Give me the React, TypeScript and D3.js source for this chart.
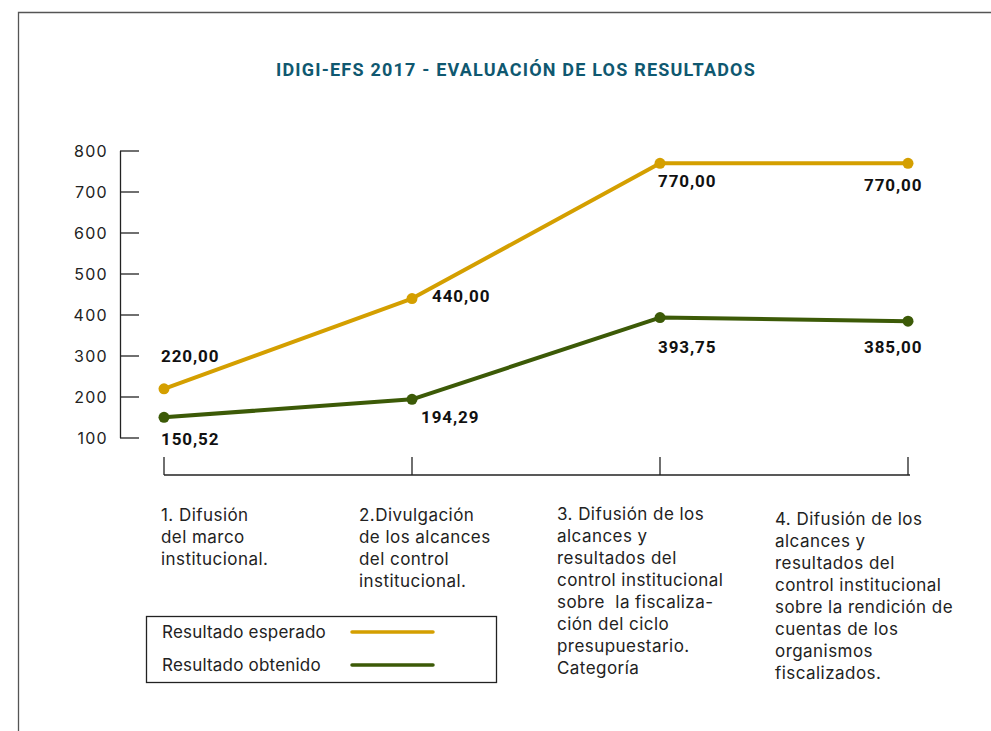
import React from "react";
import * as d3 from "d3";

const title = "IDIGI-EFS 2017 - EVALUACIÓN DE LOS RESULTADOS";
const categories = ["c1", "c2", "c3", "c4"];
const categoryLabels: string[][] = [
  ["1. Difusión", "del marco", "institucional."],
  ["2.Divulgación", "de los alcances", "del control", "institucional."],
  ["3. Difusión de los", "alcances y", "resultados del", "control institucional", "sobre  la fiscaliza-", "ción del ciclo", "presupuestario.", "Categoría"],
  ["4. Difusión de los", "alcances y", "resultados del", "control institucional", "sobre la rendición de", "cuentas de los", "organismos", "fiscalizados."],
];
const esperado = [220.0, 440.0, 770.0, 770.0];
const obtenido = [150.52, 194.29, 393.75, 385.0];
const yTicks = [100, 200, 300, 400, 500, 600, 700, 800];
const seriesNames = ["Resultado esperado", "Resultado obtenido"];

const GOLD = "#D49F00";
const GREEN = "#3C5A07";
const FONT = "Inter, 'Noto Sans', sans-serif";
const NUMFONT = "Roboto, 'Noto Sans', sans-serif";

// label offsets relative to points: [dx, dy(baseline)]
const espOffsets = [[-3, -27], [20, 3], [-2, 24], [-44, 28]];
const obtOffsets = [[-3, 28], [9, 24], [-2, 35], [-44, 32]];
const catLabelX = [161, 359, 557, 775];
const catLabelY = [521, 521, 520, 525];

export default function App() {
  const x = d3.scalePoint<string>().domain(categories).range([164, 908]);
  const y = d3.scaleLinear().domain([100, 800]).range([438, 151]);
  const line = d3
    .line<number>()
    .x((_, i) => x(categories[i]) as number)
    .y((d) => y(d));

  const fmt = (v: number) => v.toFixed(2).replace(".", ",");

  const series = [
    { name: seriesNames[0], data: esperado, color: GOLD, offs: espOffsets },
    { name: seriesNames[1], data: obtenido, color: GREEN, offs: obtOffsets },
  ];

  return (
    <svg width={991} height={731} style={{ position: "absolute", left: 0, top: 0 }}>
      <rect x={0} y={0} width={991} height={731} fill="#fff" />
      {/* frame */}
      <path d="M18.5,731 L18.5,12.5 L991,12.5" fill="none" stroke="#555" strokeWidth={1.3} />
      <text x={516} y={76} textAnchor="middle" fontFamily={NUMFONT} fontWeight={700} fontSize={18} fill="#0F5870" letterSpacing={1.2}>
        {title}
      </text>
      {/* y axis */}
      <line x1={120.5} x2={120.5} y1={y(800)} y2={y(100)} stroke="#222" strokeWidth={1.3} />
      {yTicks.map((t) => (
        <g key={t}>
          <line x1={120} x2={139} y1={y(t)} y2={y(t)} stroke="#222" strokeWidth={1.3} />
          <text x={108} y={y(t) + 6} textAnchor="end" fontFamily={FONT} fontSize={16} fill="#222" letterSpacing={1.3}>
            {t}
          </text>
        </g>
      ))}
      {/* x axis */}
      <line x1={164} x2={910} y1={475} y2={475} stroke="#222" strokeWidth={1.3} />
      {categories.map((c) => (
        <line key={c} x1={x(c)} x2={x(c)} y1={457} y2={475} stroke="#222" strokeWidth={1.3} />
      ))}
      {/* lines */}
      {series.map((s) => (
        <g key={s.name}>
          <path d={line(s.data) || ""} fill="none" stroke={s.color} strokeWidth={4} strokeLinejoin="round" />
          {s.data.map((v, i) => (
            <circle key={i} cx={x(categories[i])} cy={y(v)} r={5.5} fill={s.color} />
          ))}
          {s.data.map((v, i) => (
            <text
              key={"t" + i}
              x={(x(categories[i]) as number) + s.offs[i][0]}
              y={y(v) + s.offs[i][1]}
              fontFamily={NUMFONT}
              fontWeight={700}
              fontSize={17}
              letterSpacing={0.9}
              fill="#111"
            >
              {fmt(v)}
            </text>
          ))}
        </g>
      ))}
      {/* category labels */}
      {categoryLabels.map((lines, i) => (
        <text key={i} fontFamily={FONT} fontSize={17} fill="#222" letterSpacing={0.45}>
          {lines.map((l, j) => (
            <tspan key={j} x={catLabelX[i]} y={catLabelY[i] + j * 22} style={{ whiteSpace: "pre" }}>
              {l}
            </tspan>
          ))}
        </text>
      ))}
      {/* legend */}
      <rect x={146.5} y={616.5} width={350} height={66} fill="none" stroke="#222" strokeWidth={1.3} />
      {series.map((s, i) => (
        <g key={"lg" + i}>
          <text x={162} y={638 + i * 33} fontFamily={FONT} fontSize={17} fill="#222" letterSpacing={0.2}>
            {s.name}
          </text>
          <line x1={352} x2={433} y1={632 + i * 33} y2={632 + i * 33} stroke={s.color} strokeWidth={3.5} strokeLinecap="round" />
        </g>
      ))}
    </svg>
  );
}
